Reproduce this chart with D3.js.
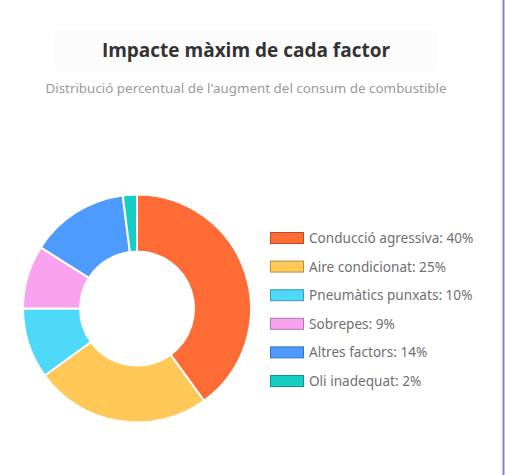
<!DOCTYPE html>
<html>
<head>
<meta charset="utf-8">
<script src="https://cdn.jsdelivr.net/npm/d3@7"></script>
<style>
  html, body { margin: 0; padding: 0; background: #fff; }
  #chart { width: 505px; height: 475px; }
</style>
</head>
<body>
<div id="chart"></div>
<script>
// chart data
const factors = ['Conducció agressiva', 'Aire condicionat', 'Pneumàtics punxats', 'Sobrepes', 'Altres factors', 'Oli inadequat']
const shares = [40, 25, 10, 9, 14, 2]
const colours = ['#ff6b35', '#ffc857', '#4dd9f7', '#f9a3f0', '#4d9bff', '#14cec4']

const title = 'Impacte màxim de cada factor'
const subtitle = "Distribució percentual de l'augment del consum de combustible"

const width = 505
const height = 475

const svg = d3.select('#chart')
  .append('svg')
  .attr('width', width)
  .attr('height', height)

// right edge of the card
svg.append('rect')
  .attr('x', 502.5).attr('y', 0)
  .attr('width', 2).attr('height', height)
  .attr('fill', '#8a80d0')

// faint header band behind the title
svg.append('rect')
  .attr('x', 55).attr('y', 30)
  .attr('width', 382).attr('height', 42)
  .attr('rx', 6)
  .attr('fill', '#fcfcfc')

svg.append('text')
  .attr('x', 246).attr('y', 57)
  .attr('text-anchor', 'middle')
  .style('font-family', '"Open Sans", sans-serif')
  .style('font-weight', 700)
  .style('font-size', '19px')
  .style('fill', '#333')
  .text(title)

svg.append('text')
  .attr('x', 246).attr('y', 93)
  .attr('text-anchor', 'middle')
  .style('font-family', '"Noto Sans", sans-serif')
  .style('font-size', '13.4px')
  .style('fill', '#9a9a9a')
  .text(subtitle)

// donut
const cx = 137, cy = 308.5
const outer = 114
const inner = outer * 0.5

const data = factors.map((name, i) => ({name, value: shares[i], colour: colours[i]}))

const pie = d3.pie()
  .value(d => d.value)
  .sort(null)

const arc = d3.arc().innerRadius(inner).outerRadius(outer)

const g = svg.append('g').attr('transform', `translate(${cx}, ${cy})`)
g.selectAll('path')
  .data(pie(data))
  .enter()
  .append('path')
  .attr('d', arc)
  .attr('fill', d => d.data.colour)
  .attr('stroke', '#fff')
  .attr('stroke-width', 2)
  .attr('stroke-linejoin', 'round')

// legend
const rowY = d3.scalePoint()
  .domain(factors)
  .range([238, 381])

const legend = svg.append('g')
const rows = legend.selectAll('g')
  .data(data)
  .enter()
  .append('g')
  .attr('transform', d => `translate(270, ${rowY(d.name)})`)

rows.append('rect')
  .attr('x', 0.5).attr('y', -5.5)
  .attr('width', 33).attr('height', 11)
  .attr('fill', d => d.colour)
  .attr('stroke', d => d3.color(d.colour).darker(0.9))
  .attr('stroke-width', 1)

rows.append('text')
  .attr('x', 39).attr('y', 5)
  .style('font-family', '"Noto Sans", sans-serif')
  .style('font-size', '13.6px')
  .style('fill', '#707070')
  .text(d => `${d.name}: ${d.value}%`)
</script>
</body>
</html>
